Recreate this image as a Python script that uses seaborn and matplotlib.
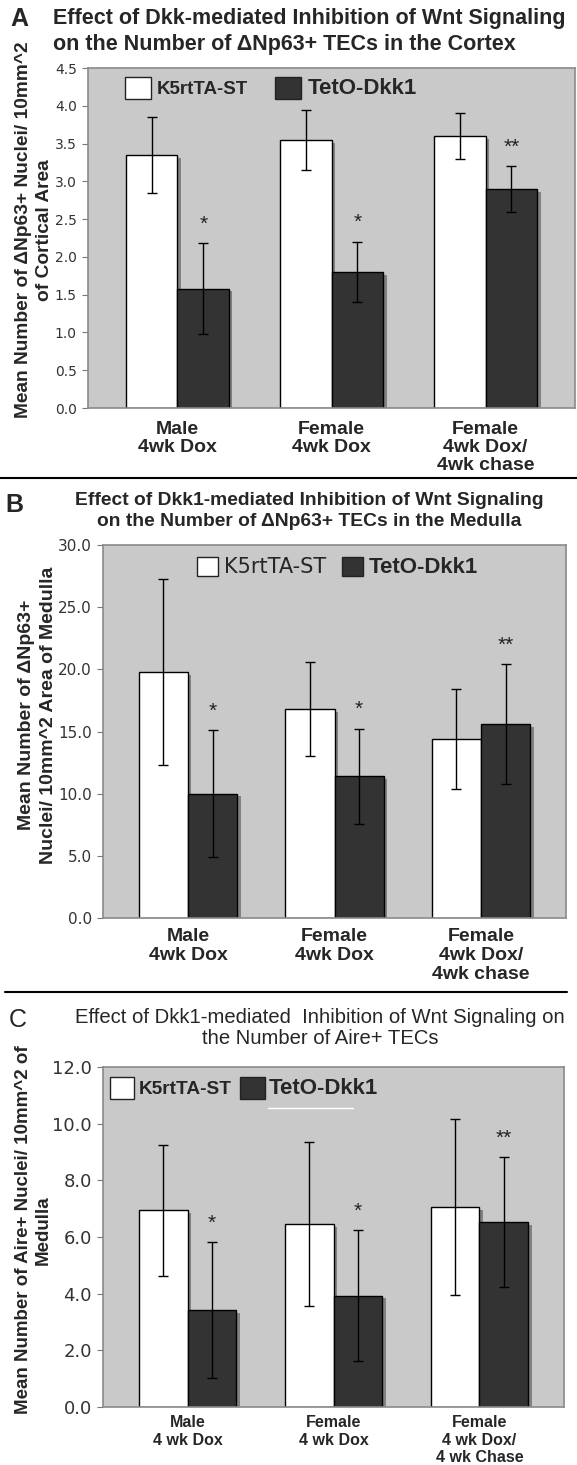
import numpy as np
import pandas as pd
import matplotlib
matplotlib.use('Agg')
import matplotlib.pyplot as plt
import matplotlib.patheffects as pe
from matplotlib.patches import Patch
from matplotlib.lines import Line2D
import seaborn as sns

sns.set_theme(style="white")
plt.rcParams['font.family'] = ['Liberation Sans', 'DejaVu Sans']

# --- data ---
genotypes = ['K5rtTA-ST', 'TetO-Dkk1']

groups_a = ['Male\n4wk Dox', 'Female\n4wk Dox', 'Female\n4wk Dox/\n4wk chase']
wt_a = [3.35, 3.55, 3.60]
wt_a_err = [0.50, 0.40, 0.30]
dkk_a = [1.58, 1.80, 2.90]
dkk_a_err = [0.60, 0.40, 0.30]

groups_b = ['Male\n4wk Dox', 'Female\n4wk Dox', 'Female\n4wk Dox/\n4wk chase']
wt_b = [19.8, 16.8, 14.4]
wt_b_err = [7.5, 3.8, 4.0]
dkk_b = [10.0, 11.4, 15.6]
dkk_b_err = [5.1, 3.8, 4.8]

groups_c = ['Male\n4 wk Dox', 'Female\n4 wk Dox', 'Female\n4 wk Dox/\n4 wk Chase']
wt_c = [6.94, 6.45, 7.06]
wt_c_err = [2.32, 2.90, 3.12]
dkk_c = [3.41, 3.93, 6.52]
dkk_c_err = [2.40, 2.30, 2.30]

stars = ['*', '*', '**']

W, H = 577, 1465
fig = plt.figure(figsize=(W / 100, H / 100), dpi=100)
fig.patch.set_facecolor('white')


def px_box(l, t, r, b):
    return [l / W, 1 - b / H, (r - l) / W, (b - t) / H]


def draw_panel(box, groups, wt, wt_err, dkk, dkk_err, ymax, ystep,
               ylabel, ylab_size, ylab_space, ylab_xy,
               tick_size, xlab_size, xlab_pad, xlab_space,
               leg_xy, leg_sizes, leg_weights, hlen, hhgt, hpad, colsp):
    l, t, r, b = box
    ax = fig.add_axes(px_box(*box))
    df = pd.DataFrame({
        'group': groups * 2,
        'genotype': [genotypes[0]] * 3 + [genotypes[1]] * 3,
        'mean': wt + dkk,
    })
    sns.barplot(data=df, x='group', y='mean', hue='genotype', order=groups,
                hue_order=genotypes, palette={genotypes[0]: 'white', genotypes[1]: '#333333'},
                edgecolor='black', linewidth=1.0, width=0.67, errorbar=None,
                legend=False, ax=ax, saturation=1)
    errs = [wt_err, dkk_err]
    bar_conts = list(ax.containers)
    for k, cont in enumerate(bar_conts):
        for j, bar in enumerate(cont.patches):
            bar.set_path_effects([pe.SimplePatchShadow(offset=(2.5, -2), shadow_rgbFace='#6f6f6f', alpha=0.8),
                                  pe.Normal()])
            xc = bar.get_x() + bar.get_width() / 2
            h = bar.get_height()
            ax.errorbar(xc, h, yerr=errs[k][j], fmt='none', ecolor='black',
                        elinewidth=1.0, capsize=3.5, capthick=1.0, zorder=5)
            if k == 1:
                ax.annotate(stars[j], (xc, h + errs[k][j]), xytext=(0, 7),
                            textcoords='offset points', ha='center', va='bottom',
                            fontsize=15, color='#222222')
    ax.set_facecolor('#c9c9c9')
    ax.set_xlim(-0.58, 2.58)
    ax.set_ylim(0, ymax)
    ax.set_yticks(np.arange(0, ymax + ystep / 2, ystep))
    ax.yaxis.set_major_formatter(matplotlib.ticker.FormatStrFormatter('%.1f'))
    ax.tick_params(axis='y', which='major', left=True, length=4, width=0.8,
                   color='#777777', labelsize=tick_size, labelcolor='#333333', pad=4)
    for lab in ax.get_yticklabels():
        lab.set_fontfamily('DejaVu Sans')
    ax.tick_params(axis='x', bottom=False, labelsize=xlab_size, pad=xlab_pad)
    for lab in ax.get_xticklabels():
        lab.set_fontweight('bold')
        lab.set_linespacing(xlab_space)
    for s in ax.spines.values():
        s.set_color('#8a8a8a')
        s.set_linewidth(1.2)
    ax.set_xlabel('')
    ax.set_ylabel(ylabel, fontsize=ylab_size, fontweight='bold', linespacing=ylab_space)
    ax.yaxis.set_label_coords((ylab_xy[0] - l) / (r - l), (b - ylab_xy[1]) / (b - t))
    handles = [Patch(facecolor='white', edgecolor='#222222', linewidth=1),
               Patch(facecolor='#333333', edgecolor='#222222', linewidth=1)]
    leg = ax.legend(handles, genotypes, loc='upper left',
                    bbox_to_anchor=((leg_xy[0] - l) / (r - l), (b - leg_xy[1]) / (b - t)),
                    ncol=2, frameon=False, handlelength=hlen, handleheight=hhgt,
                    columnspacing=colsp, handletextpad=hpad, borderpad=0, borderaxespad=0,
                    prop={'size': leg_sizes[0]})
    for txt, s, w in zip(leg.get_texts(), leg_sizes, leg_weights):
        txt.set_fontsize(s)
        txt.set_fontweight(w)
    return ax


# Panel A
ax_a = draw_panel((88, 68, 575, 408), groups_a, wt_a, wt_a_err, dkk_a, dkk_a_err, 4.5, 0.5,
                  'Mean Number of \u0394Np63+ Nuclei/ 10mm^2\nof Cortical Area', 13.8, 1.28, (53, 230),
                  10, 14, 3, 1.1,
                  (125, 77), (13.5, 16), ('bold', 'bold'), 1.39, 1.39, 0.32, 1.44)
fig.text(10 / W, 1 - 7 / H, 'A', fontsize=18, fontweight='bold', va='top', ha='left')
fig.text(53 / W, 1 - 8 / H,
         'Effect of Dkk-mediated Inhibition of Wnt Signaling\non the Number of \u0394Np63+ TECs in the Cortex',
         fontsize=15.5, fontweight='bold', va='top', ha='left', linespacing=1.32)
fig.add_artist(Line2D([0, 1], [1 - 478 / H, 1 - 478 / H], transform=fig.transFigure,
                      color='black', lw=1.5))

# Panel B
ax_b = draw_panel((103, 545, 566, 918), groups_b, wt_b, wt_b_err, dkk_b, dkk_b_err, 30, 5,
                  'Mean Number of \u0394Np63+\nNuclei/ 10mm^2 Area of Medulla', 14, 1.42, (57, 715),
                  11, 14, 1, 1.15,
                  (197, 557), (15, 16), ('normal', 'bold'), 1.0, 1.0, 0.29, 0.77)
ax_b.get_legend().get_texts()[0].set_fontfamily('DejaVu Sans')
fig.text(5 / W, 1 - 493 / H, 'B', fontsize=18, fontweight='bold', va='top', ha='left')
fig.text(309 / W, 1 - 492 / H,
         'Effect of Dkk1-mediated Inhibition of Wnt Signaling\non the Number of \u0394Np63+ TECs in the Medulla',
         fontsize=13.9, fontweight='bold', va='top', ha='center', linespacing=1.3)
fig.add_artist(Line2D([5 / W, 567 / W], [1 - 992 / H, 1 - 992 / H], transform=fig.transFigure,
                      color='black', lw=1.5))

# Panel C
ax_c = draw_panel((103, 1067, 564, 1407), groups_c, wt_c, wt_c_err, dkk_c, dkk_c_err, 12, 2,
                  'Mean Number of Aire+ Nuclei/ 10mm^2 of\nMedulla', 13.5, 1.23, (52, 1230),
                  13, 11.5, 0, 1.2,
                  (110, 1077), (13.7, 16), ('bold', 'bold'), 1.28, 1.39, 0.21, 0.48)
ax_c.add_line(Line2D([(268 - 103) / 461, (353 - 103) / 461], [(1407 - 1108) / 340] * 2,
                     transform=ax_c.transAxes, color='white', lw=1))
fig.text(9 / W, 1 - 1008 / H, 'C', fontsize=18, va='top', ha='left')
fig.text(320 / W, 1 - 1008 / H,
         'Effect of Dkk1-mediated  Inhibition of Wnt Signaling on\nthe Number of Aire+ TECs',
         fontsize=14.6, va='top', ha='center', linespacing=1.12)

fig.savefig('out.png', dpi=100, facecolor='white')
